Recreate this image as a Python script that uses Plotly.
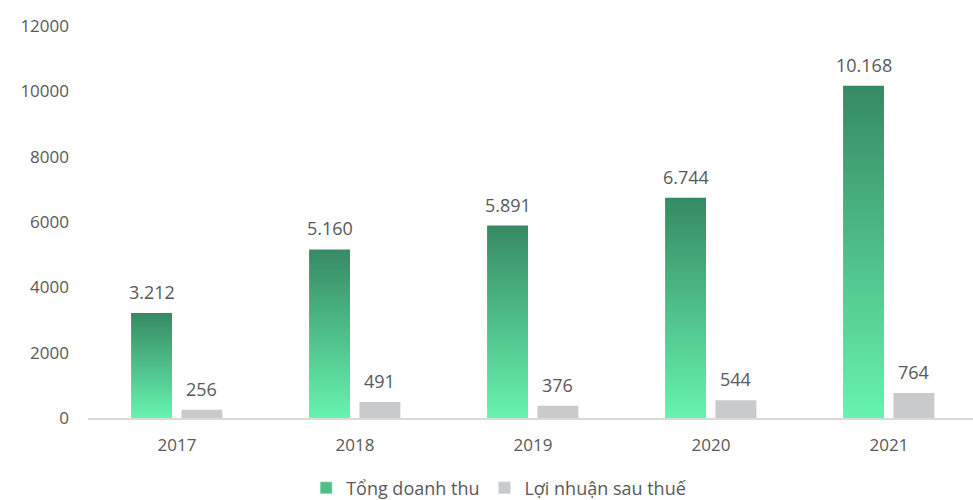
import plotly.graph_objects as go

years = ["2017", "2018", "2019", "2020", "2021"]
revenue = [3212, 5160, 5891, 6744, 10168]       # Tổng doanh thu
profit = [256, 491, 376, 544, 764]              # Lợi nhuận sau thuế
y_ticks = [0, 2000, 4000, 6000, 8000, 10000, 12000]

GREEN_TOP = "#368A63"
GREEN_MID = "#4DBF87"
GREEN_BOTTOM = "#67F3AF"
GREY = "#C9CACC"
TEXT = "#595959"
FONT = "Open Sans"

BAR_W = 0.23
OFF_REV = -0.143
OFF_PRO = 0.14


def fmt(v):
    return f"{v:,}".replace(",", ".")


fig = go.Figure()

xs = list(range(len(years)))

# revenue bars: one filled polygon per year so each gets its own vertical gradient
for x, v in zip(xs, revenue):
    c = x + OFF_REV
    fig.add_trace(go.Scatter(
        x=[c - BAR_W / 2, c + BAR_W / 2, c + BAR_W / 2, c - BAR_W / 2, c - BAR_W / 2],
        y=[0, 0, v, v, 0],
        mode="lines", line=dict(width=0),
        fill="toself",
        fillgradient=dict(type="vertical",
                          colorscale=[[0, GREEN_BOTTOM], [1, GREEN_TOP]]),
        legendgroup="rev", showlegend=False, hoverinfo="skip",
    ))

# legend entry for revenue (square swatch)
fig.add_trace(go.Bar(
    x=[None], y=[None], marker=dict(color=GREEN_MID),
    name="Tổng doanh thu", legendgroup="rev", showlegend=True,
))

# profit bars
fig.add_trace(go.Bar(
    x=[x + OFF_PRO for x in xs], y=profit, width=BAR_W,
    marker=dict(color=GREY, line=dict(width=0)),
    name="Lợi nhuận sau thuế", showlegend=True,
))

# value labels above each bar
label_font = dict(family=FONT, size=18, color=TEXT)
for x, v in zip(xs, revenue):
    fig.add_annotation(x=x + OFF_REV, y=v, text=fmt(v), showarrow=False,
                       yanchor="middle", yshift=21, font=label_font)
for x, v in zip(xs, profit):
    fig.add_annotation(x=x + OFF_PRO, y=v, text=fmt(v), showarrow=False,
                       yanchor="middle", yshift=21, font=label_font)

fig.update_layout(
    width=973, height=500,
    margin=dict(l=88, r=0, t=26, b=82, autoexpand=False),
    plot_bgcolor="white", paper_bgcolor="white",
    font=dict(family=FONT, size=17, color=TEXT),
    showlegend=True,
    legend=dict(orientation="h", x=0.464, xanchor="center",
                y=-0.179, yanchor="middle",
                itemwidth=30,
                font=dict(family=FONT, size=18, color=TEXT),
                traceorder="normal"),
    xaxis=dict(
        range=[-0.5, 4.472], tickmode="array", tickvals=xs, ticktext=years,
        showgrid=False, zeroline=False,
        showline=True, linecolor="#D9D9D9", linewidth=1.5,
        ticks="", ticklabelstandoff=11,
        tickfont=dict(family=FONT, size=17, color=TEXT),
    ),
    yaxis=dict(
        range=[0, 12000], tickmode="array", tickvals=y_ticks,
        ticktext=[str(t) for t in y_ticks],
        showgrid=False, zeroline=False, showline=False,
        ticks="", ticklabelstandoff=18,
        tickfont=dict(family=FONT, size=17, color=TEXT),
    ),
)

fig.write_html("out.html")
